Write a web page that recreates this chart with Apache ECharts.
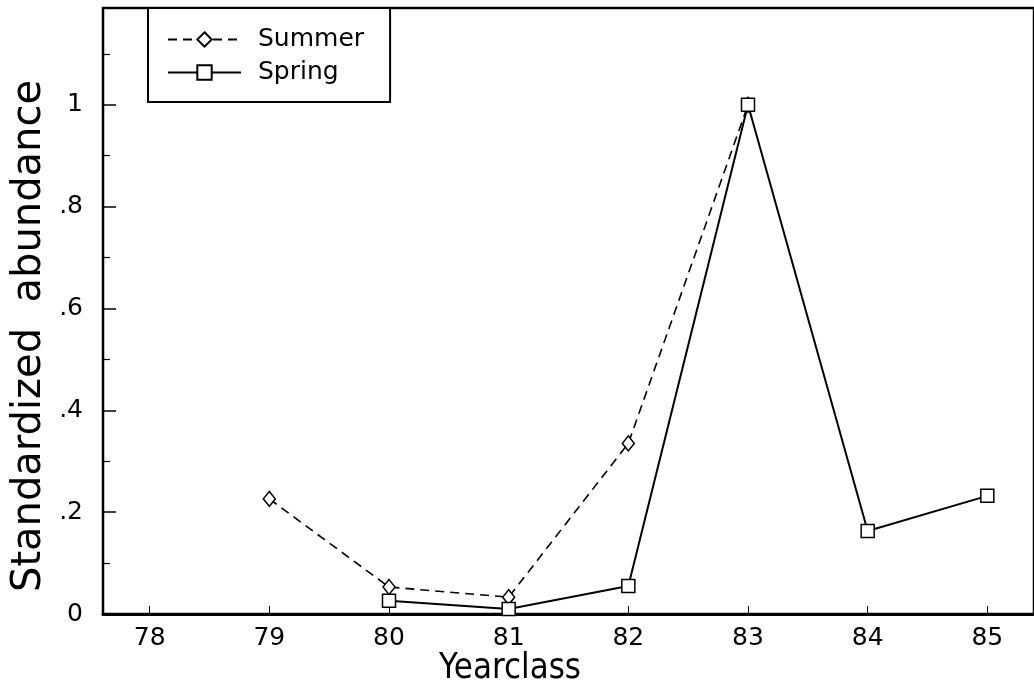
<!DOCTYPE html>
<html><head><meta charset="utf-8">
<script src="https://cdn.jsdelivr.net/npm/echarts@6/dist/echarts.min.js"></script>
<style>html,body{margin:0;padding:0;background:#fff;overflow:hidden}#c{width:1034px;height:698px}</style>
</head><body><div id="c"></div>
<script>
const yearTicks = [78, 79, 80, 81, 82, 83, 84, 85];
const summerYears = [79, 80, 81, 82, 83];
const summerValues = [0.226, 0.053, 0.033, 0.335, 1.0];
const springYears = [80, 81, 82, 83, 84, 85];
const springValues = [0.026, 0.010, 0.055, 1.0, 0.163, 0.232];
const yTickLabels = {0: '0', 0.2: '.2', 0.4: '.4', 0.6: '.6', 0.8: '.8', 1: '1'};

const FONT = '"DejaVu Sans", sans-serif';
const chart = echarts.init(document.getElementById('c'), null, {renderer: 'canvas'});
const zip = (xs, ys) => xs.map((x, i) => [x, ys[i]]);

chart.setOption({
  animation: false,
  backgroundColor: '#fff',
  grid: {left: 103, top: 8, right: -3, bottom: 84, show: true, borderColor: '#000', borderWidth: 2.5, backgroundColor: 'transparent'},
  legend: {
    orient: 'vertical', left: 148, top: 8,
    backgroundColor: '#fff', borderColor: '#000', borderWidth: 2,
    padding: [19, 26, 17, 19], itemGap: 8, itemWidth: 73, itemHeight: 18,
    textStyle: {fontFamily: FONT, fontSize: 25, color: '#000', lineHeight: 24, padding: [0, 0, 0, 12]},
    data: ['Summer', 'Spring']
  },
  xAxis: {
    type: 'value', min: 77.61, max: 85.39,
    axisLine: {show: true, lineStyle: {color: '#000', width: 3}},
    axisTick: {show: true, inside: true, length: 8, customValues: yearTicks, lineStyle: {color: '#000', width: 1}},
    axisLabel: {customValues: yearTicks, margin: 12, fontFamily: FONT, fontSize: 25, color: '#000', formatter: v => String(v)},
    splitLine: {show: false}
  },
  yAxis: {
    type: 'value', min: 0, max: 1.19, interval: 0.2,
    axisLine: {show: true, lineStyle: {color: '#000', width: 2}},
    axisTick: {show: true, inside: true, length: 13, lineStyle: {color: '#000', width: 1.5}},
    minorTick: {show: true, splitNumber: 2, length: 7, lineStyle: {color: '#000', width: 1.2}},
    axisLabel: {margin: 20, fontFamily: FONT, fontSize: 25, color: '#000',
      formatter: v => { const k = Math.round(v * 10) / 10; return (v <= 1.0001 && yTickLabels[k] !== undefined) ? yTickLabels[k] : ''; }},
    splitLine: {show: false}
  },
  graphic: [
    {type: 'text', x: 510, y: 669, style: {text: 'Yearclass', font: '31px "DejaVu Sans", sans-serif', fill: '#000', textAlign: 'center', textVerticalAlign: 'middle'}, scaleY: 1.15},
    {type: 'text', x: 30, y: 336, rotation: Math.PI / 2, style: {text: 'Standardized  abundance', font: '40px "DejaVu Sans", sans-serif', fill: '#000', textAlign: 'center', textVerticalAlign: 'middle'}}
  ],
  series: [
    {
      name: 'Summer', type: 'line', data: zip(summerYears, summerValues),
      symbol: 'diamond', symbolSize: [12, 15],
      lineStyle: {color: '#000', width: 1.6, type: [9, 6]},
      itemStyle: {color: '#fff', borderColor: '#000', borderWidth: 1.5},
      z: 3
    },
    {
      name: 'Spring', type: 'line', data: zip(springYears, springValues),
      symbol: 'rect', symbolSize: 13,
      lineStyle: {color: '#000', width: 2, type: 'solid'},
      itemStyle: {color: '#fff', borderColor: '#000', borderWidth: 1.5},
      z: 4
    }
  ]
});
</script></body></html>
